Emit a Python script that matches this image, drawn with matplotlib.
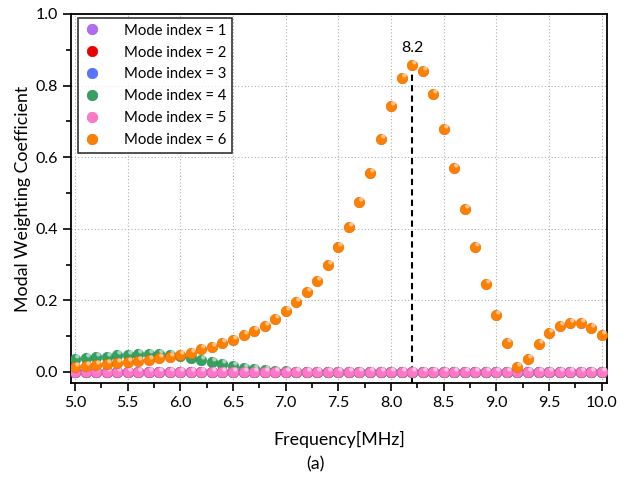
import numpy as np
import matplotlib
matplotlib.use("Agg")
import matplotlib.pyplot as plt
from matplotlib.path import Path
from matplotlib.ticker import MultipleLocator, FormatStrFormatter
from matplotlib.legend_handler import HandlerTuple

plt.rcParams['font.family'] = ['Lato', 'DejaVu Sans']

# frequency axis (MHz)
freq = [5.0, 5.1, 5.2, 5.3, 5.4, 5.5, 5.6, 5.7, 5.8, 5.9,
        6.0, 6.1, 6.2, 6.3, 6.4, 6.5, 6.6, 6.7, 6.8, 6.9,
        7.0, 7.1, 7.2, 7.3, 7.4, 7.5, 7.6, 7.7, 7.8, 7.9,
        8.0, 8.1, 8.2, 8.3, 8.4, 8.5, 8.6, 8.7, 8.8, 8.9,
        9.0, 9.1, 9.2, 9.3, 9.4, 9.5, 9.6, 9.7, 9.8, 9.9, 10.0]

mode1 = [0.0] * 51
mode2 = [0.0] * 51
mode3 = [0.0] * 51
mode4 = [0.035, 0.038, 0.041, 0.043, 0.046, 0.047, 0.049, 0.050, 0.050, 0.047,
         0.045, 0.039, 0.034, 0.028, 0.022, 0.017, 0.011, 0.008, 0.005, 0.003,
         0.002, 0.001, 0.001, 0.001, 0.001, 0.001, 0.001, 0.001, 0.001, 0.001,
         0.001, 0.001, 0.001, 0.001, 0.001, 0.001, 0.001, 0.001, 0.001, 0.001,
         0.001, 0.001, 0.001, 0.001, 0.001, 0.001, 0.001, 0.001, 0.001, 0.001, 0.001]
mode5 = [0.0] * 51
mode6 = [0.014, 0.017, 0.020, 0.022, 0.025, 0.028, 0.031, 0.034, 0.039, 0.042,
         0.047, 0.053, 0.063, 0.070, 0.080, 0.089, 0.103, 0.114, 0.129, 0.148,
         0.170, 0.194, 0.223, 0.254, 0.299, 0.349, 0.405, 0.475, 0.556, 0.651,
         0.743, 0.821, 0.857, 0.842, 0.776, 0.679, 0.570, 0.455, 0.349, 0.246,
         0.158, 0.081, 0.015, 0.036, 0.079, 0.110, 0.129, 0.138, 0.136, 0.124, 0.103]

series = [mode1, mode2, mode3, mode4, mode5, mode6]
labels = ['Mode index = 1', 'Mode index = 2', 'Mode index = 3',
          'Mode index = 4', 'Mode index = 5', 'Mode index = 6']
colors = ['#b36bf5', '#f00000', '#5a73ff', '#35a060', '#ff78c8', '#ff7f00']
edges = ['#9a55dd', '#c80000', '#4a60e0', '#2a8a50', '#e865b0', '#e06a00']
peak_x, peak_y = 8.2, 0.857

# small highlight spot near the top of each ball
t = np.linspace(0, 2 * np.pi, 30)
hl = Path(np.column_stack([0.12 + 0.14 * np.cos(t), 0.2 + 0.14 * np.sin(t)]))

fig = plt.figure(figsize=(6.3, 4.79), dpi=100)
ax = fig.add_axes([0.1127, 0.2004, 0.8503, 0.7704])

ms = 7.6
handles = []
for i in range(len(series)):
    l1, = ax.plot(freq, series[i], 'o', ms=ms, color=colors[i], mec=edges[i], mew=0.4, zorder=3 + i)
    l2, = ax.plot(freq, series[i], ls='none', marker=hl, ms=ms, color='white',
                  alpha=0.55, mew=0, zorder=3 + i)
    handles.append((l1, l2))

ax.vlines(peak_x, -0.031, peak_y, colors='black', linestyles=(0, (3, 2)), lw=1.5, zorder=2)
ax.text(peak_x, 0.905, '8.2', ha='center', va='center', fontsize=11.5)

ax.set_xlim(4.962, 10.047)
ax.set_ylim(-0.031, 1.0)
ax.xaxis.set_major_locator(MultipleLocator(0.5))
ax.xaxis.set_minor_locator(MultipleLocator(0.25))
ax.yaxis.set_major_locator(MultipleLocator(0.2))
ax.yaxis.set_minor_locator(MultipleLocator(0.1))
ax.xaxis.set_major_formatter(FormatStrFormatter('%.1f'))
ax.yaxis.set_major_formatter(FormatStrFormatter('%.1f'))
ax.tick_params(which='major', direction='out', length=6, width=1.2, labelsize=11.5, top=False, right=False)
ax.tick_params(which='minor', direction='out', length=3.5, width=1.2, top=False, right=False)
for sp in ax.spines.values():
    sp.set_linewidth(1.3)
ax.grid(True, which='major', ls=(0, (1, 2)), color='#b0b0b0', lw=0.8)
ax.set_axisbelow(True)

ax.set_xlabel('Frequency[MHz]', fontsize=12.8, labelpad=15)
ax.set_ylabel('Modal Weighting Coefficient', fontsize=12.8, labelpad=3)
fig.text(0.5, 0.03, '(a)', ha='center', va='center', fontsize=12.8)

leg = ax.legend(handles, labels, loc='upper left', bbox_to_anchor=(0.013, 0.989),
                fontsize=10.7, frameon=True, fancybox=False, edgecolor='black',
                handler_map={tuple: HandlerTuple(ndivide=None, pad=0)},
                borderpad=0.38, labelspacing=0.53, handlelength=2.2, handletextpad=0.52,
                borderaxespad=0)
leg.get_frame().set_linewidth(1.2)
leg.set_zorder(20)

fig.savefig('out.png', dpi=100)
